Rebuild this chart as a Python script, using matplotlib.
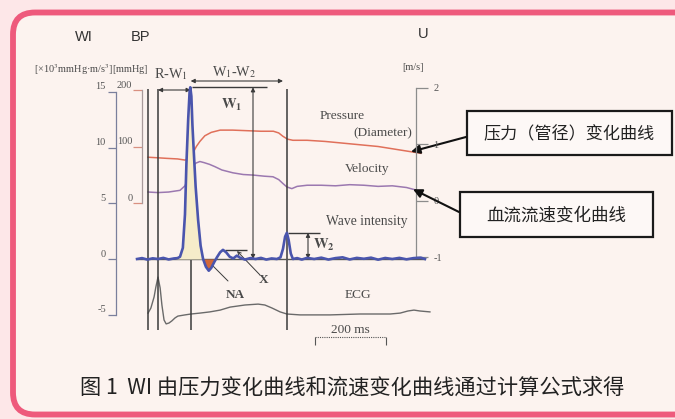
import numpy as np
import matplotlib
matplotlib.use("Agg")
import matplotlib.pyplot as plt
from matplotlib.patches import FancyBboxPatch, Rectangle
from matplotlib.transforms import ScaledTranslation

plt.rcParams['font.serif'] = ['Liberation Serif', 'DejaVu Serif']
plt.rcParams['font.sans-serif'] = ['Liberation Sans', 'DejaVu Sans']
plt.rcParams['mathtext.fontset'] = 'stix'
plt.rcParams['axes.unicode_minus'] = False

# ---------------- data ----------------
# event times (ms, relative to the ECG R wave): trace start, R, W1 peak, W2 peak
event_times = [-28, 0, 93, 363]

pressure_t = [-28, 0, 25, 55, 76, 88, 98, 108, 118, 132, 150, 175, 210, 250, 290,
              325, 340, 352, 365, 380, 420, 470, 520, 570, 620, 670, 720, 740]
pressure_mmhg = [81, 80, 79, 78, 76, 79, 88, 100, 109, 119, 125, 129, 129, 128, 127,
                 127, 124, 118, 113, 111, 111, 109, 106, 103, 100, 95, 90, 88]

velocity_t = [-28, 0, 30, 62, 76, 86, 96, 106, 118, 130, 145, 160, 180, 211, 240, 268,
              300, 324, 340, 352, 363, 377, 392, 420, 460, 500, 540, 580, 620, 660, 700, 724]
velocity_ms = [0.15, 0.14, 0.15, 0.18, 0.26, 0.42, 0.58, 0.66, 0.69, 0.67, 0.64, 0.60,
               0.54, 0.49, 0.46, 0.45, 0.43, 0.42, 0.37, 0.30, 0.24, 0.21, 0.25, 0.27,
               0.27, 0.26, 0.28, 0.27, 0.25, 0.26, 0.23, 0.19]

wi_t = [-59, -45, -30, -15, 0, 15, 30, 45, 55, 62, 70, 76, 80, 85, 89, 91, 94, 97, 101,
        106, 113, 120, 127, 135, 143, 150, 158, 166, 175, 183, 192, 202, 212, 222, 232,
        245, 260, 275, 290, 305, 320, 335, 345, 352, 358, 363, 368, 374, 380, 392, 405,
        420, 440, 460, 480, 500, 520, 540, 560, 580, 600, 620, 640, 660, 680, 700, 720,
        740, 752]
wi_vals = [0.0, 0.08, -0.05, 0.06, 0.0, 0.1, -0.04, 0.05, 0.08, 0.2, 1.0, 4.0, 8.5, 12.5,
           15.0, 15.4, 14.6, 12.0, 9.5, 6.5, 3.5, 1.2, 0.0, -0.7, -1.05, -0.8, -0.3, 0.15,
           0.6, 0.82, 0.6, 0.2, 0.05, 0.3, 0.1, -0.05, 0.08, 0.0, 0.1, -0.05, 0.05, 0.0,
           0.15, 0.9, 2.0, 2.35, 1.7, 0.5, 0.0, 0.08, -0.05, 0.1, 0.0, 0.12, -0.05, 0.08,
           0.15, -0.04, 0.1, 0.02, 0.12, -0.06, 0.09, 0.0, 0.1, -0.03, 0.08, 0.12, 0.0]

ecg_t = [-28, -20, -11, -6, 0, 6, 11, 17, 23, 31, 39, 48, 56, 76, 93, 118, 146, 175, 203,
         245, 282, 301, 321, 344, 363, 400, 485, 569, 654, 682, 704, 721, 738, 766]
ecg_mv = [0.03, 0.2, 0.57, 0.9, 1.23, 0.87, 0.3, -0.2, -0.33, -0.3, -0.23, -0.13, -0.07,
          -0.03, 0.0, 0.03, 0.07, 0.13, 0.23, 0.3, 0.33, 0.3, 0.2, 0.07, 0.0, -0.03, -0.03,
          0.0, 0.0, 0.03, 0.1, 0.13, 0.1, 0.07]

wi_ticks = [-5, 0, 5, 10, 15]
bp_ticks = [0, 100, 200]
u_ticks = [-1, 0, 1, 2]
scale_bar_ms = 200

# ---------------- colours ----------------
WI_COLOR = '#4a55ad'
PRESSURE_COLOR = '#e0705a'
VELOCITY_COLOR = '#9b78b0'
ECG_COLOR = '#6a6a6a'
DARK = '#3a3a3a'
TEXT = '#4a4a4a'
NA_FILL = '#d2683a'
W1_FILL = '#f6ecca'

# ---------------- figure & frame ----------------
W, H = 675, 419
fig = plt.figure(figsize=(W / 100, H / 100), dpi=100)
fig.patch.set_facecolor('#fde7e8')

bg = fig.add_axes([0, 0, 1, 1], zorder=0)
bg.set_xlim(0, W)
bg.set_ylim(H, 0)
bg.axis('off')
bg.add_patch(FancyBboxPatch((13, 12.5), 720, 402,
                            boxstyle='round,pad=0,rounding_size=22',
                            fc='#fcf3ef', ec='#ee5a7c', lw=4.2))

# ---------------- chart geometry (pixel layout) ----------------
MS_PX = 0.355     # pixels per millisecond
R_PX = 158        # x pixel of the R wave
WI_PX = 11.15     # pixels per WI unit
WI0_PX = 259      # y pixel of WI = 0
T_LIM = (-160, 800)
WI_LIM = (-8, 17)


def t_at(px):
    return (px - R_PX) / MS_PX


def wi_at(py):
    return (WI0_PX - py) / WI_PX


def bp_at(py):
    return (203 - py) / 0.565


def u_at(py):
    return (200.5 - py) / 56.5


def ecg_at(py):
    return (314 - py) / 30.0


x_left = R_PX + MS_PX * T_LIM[0]
x_right = R_PX + MS_PX * T_LIM[1]
y_bot = WI0_PX - WI_PX * WI_LIM[0]
y_top = WI0_PX - WI_PX * WI_LIM[1]
rect = [x_left / W, 1 - y_bot / H, (x_right - x_left) / W, (y_bot - y_top) / H]

ax = fig.add_axes(rect, zorder=3)
ax.set_xlim(*T_LIM)
ax.set_ylim(*WI_LIM)
ax.patch.set_visible(False)

axbp = ax.twinx()
axbp.set_zorder(2)
axbp.set_ylim(bp_at(y_bot), bp_at(y_top))

axu = ax.twinx()
axu.set_zorder(2)
axu.set_ylim(u_at(y_bot), u_at(y_top))

axecg = ax.twinx()
axecg.set_zorder(2)
axecg.set_ylim(ecg_at(y_bot), ecg_at(y_top))
axecg.axis('off')

for a in (axbp, axu):
    a.patch.set_visible(False)


def lift_labels(axis_obj, dy_px):
    off = ScaledTranslation(0, dy_px / 100, fig.dpi_scale_trans)
    for lab in axis_obj.get_ticklabels():
        lab.set_transform(lab.get_transform() + off)


# WI axis
for s in ('top', 'right', 'bottom'):
    ax.spines[s].set_visible(False)
ax.set_xticks([])
ax.spines['left'].set_position(('data', t_at(116)))
ax.spines['left'].set_bounds(wi_ticks[0], wi_ticks[-1])
ax.spines['left'].set_color('#7a7f9c')
ax.spines['left'].set_linewidth(0.9)
ax.set_yticks(wi_ticks)
ax.tick_params(axis='y', direction='out', length=5.8, width=0.9, color='#7a7f9c',
               pad=1.5, labelsize=7.5, labelcolor='#555', labelfontfamily='serif')
lift_labels(ax.yaxis, 6)

# BP axis
for s in ('top', 'right', 'bottom'):
    axbp.spines[s].set_visible(False)
axbp.spines['left'].set_visible(True)
axbp.yaxis.tick_left()
axbp.spines['left'].set_position(('data', t_at(142)))
axbp.spines['left'].set_bounds(bp_ticks[0], bp_ticks[-1])
axbp.spines['left'].set_color('#a89a9a')
axbp.spines['left'].set_linewidth(0.9)
axbp.set_yticks(bp_ticks)
axbp.tick_params(axis='y', direction='out', length=6.5, width=0.9, color='#d99080',
                 pad=0.5, labelsize=7.5, labelcolor='#555', labelfontfamily='serif')
lift_labels(axbp.yaxis, 6)

# U axis
for s in ('top', 'left', 'bottom'):
    axu.spines[s].set_visible(False)
axu.spines['right'].set_position(('data', t_at(416)))
axu.spines['right'].set_bounds(u_ticks[0], u_ticks[-1])
axu.spines['right'].set_color('#8c8c8c')
axu.spines['right'].set_linewidth(0.9)
axu.set_yticks(u_ticks)
axu.tick_params(axis='y', direction='out', length=8.6, width=0.9, color='#8c8c8c',
                pad=4, labelsize=7.5, labelcolor='#555', labelfontfamily='serif')

# ---------------- traces ----------------
wi_t_arr = np.array(wi_t, dtype=float)
wi_arr = np.array(wi_vals, dtype=float)

ax.vlines(event_times, wi_at(330), wi_at(89), color=DARK, lw=1.1, zorder=1)
ax.hlines(0, t_at(137), t_at(425), color='#555555', lw=1.0, zorder=1)

ax.fill_between(wi_t_arr, wi_arr, 0,
                where=(wi_t_arr >= 55) & (wi_t_arr <= 127) & (wi_arr > 0),
                interpolate=True, color=W1_FILL, lw=0, zorder=2)
ax.fill_between(wi_t_arr, wi_arr, 0,
                where=(wi_t_arr >= 120) & (wi_t_arr <= 170) & (wi_arr < 0),
                interpolate=True, color=NA_FILL, lw=0, zorder=2)
ax.plot(wi_t_arr, wi_arr, color=WI_COLOR, lw=1.9, zorder=4)

axbp.plot(pressure_t, pressure_mmhg, color=PRESSURE_COLOR, lw=1.1)
axu.plot(velocity_t, velocity_ms, color=VELOCITY_COLOR, lw=1.1)
axecg.plot(ecg_t, ecg_mv, color=ECG_COLOR, lw=1.0)

# ---------------- measurement markers ----------------
w1_peak = wi_arr.max()
w2_mask = (wi_t_arr > 330) & (wi_t_arr < 400)
w2_peak = wi_arr[w2_mask].max()
x_mask = (wi_t_arr > 165) & (wi_t_arr < 200)
x_level = wi_arr[x_mask].max()

ax.hlines(w1_peak, t_at(192), t_at(267), color=DARK, lw=1.0)
ax.hlines(w2_peak, t_at(288), t_at(320), color=DARK, lw=1.0)
ax.hlines(x_level, t_at(225), t_at(247), color=DARK, lw=1.0)

dbl = dict(arrowstyle='<|-|>', color=DARK, lw=0.8, mutation_scale=6, shrinkA=0, shrinkB=0)
ax.annotate('', xy=(event_times[1], wi_at(90)), xytext=(event_times[2] - 1, wi_at(90)),
            arrowprops=dbl)
ax.annotate('', xy=(event_times[2] - 1, wi_at(81)), xytext=(t_at(283), wi_at(81)),
            arrowprops=dbl)
ax.annotate('', xy=(t_at(253), 0), xytext=(t_at(253), w1_peak), arrowprops=dbl)
ax.annotate('', xy=(t_at(308), 0), xytext=(t_at(308), w2_peak), arrowprops=dbl)

ax.annotate('', xy=(t_at(237), wi_at(251)), xytext=(t_at(260), wi_at(275)),
            arrowprops=dict(arrowstyle='->', color=DARK, lw=0.7, mutation_scale=6,
                            shrinkA=0, shrinkB=0))
ax.annotate('', xy=(t_at(213), wi_at(266)), xytext=(t_at(228), wi_at(281)),
            arrowprops=dict(arrowstyle='-', color=DARK, lw=0.7, shrinkA=0, shrinkB=0))

# 200 ms scale bar
sb0 = t_at(315)
ax.plot([sb0, sb0 + scale_bar_ms], [wi_at(337)] * 2, ls=(0, (1, 1)), color='#555', lw=0.8)
ax.vlines([sb0, sb0 + scale_bar_ms], wi_at(345), wi_at(337), color='#555', lw=0.8)

# ---------------- text labels ----------------
serif = dict(family='serif', color=TEXT, ha='center', va='center')
bg.text(84, 37, 'WI', family='sans-serif', fontsize=10.5, color='#333', ha='center', va='center')
bg.text(140, 37, 'BP', family='sans-serif', fontsize=10.5, color='#333', ha='center', va='center')
bg.text(423, 34, 'U', family='sans-serif', fontsize=10.5, color='#333', ha='center', va='center')
bg.text(91, 70, r'[×10$^3$mmHg·m/s$^3$][mmHg]', fontsize=7.4, **serif)
bg.text(413, 67, '[m/s]', fontsize=7.4, **serif)

bg.text(171, 74, r'R-W$_1$', fontsize=10.3, **serif)
bg.text(234, 72, r'W$_1$-W$_2$', fontsize=10.3, **serif)
bg.text(232, 105, r'$\mathbf{W_1}$', fontsize=10.5, **serif)
bg.text(342, 116, 'Pressure', fontsize=9.6, **serif)
bg.text(383, 133, '(Diameter)', fontsize=9.6, **serif)
bg.text(367, 169, 'Velocity', fontsize=9.6, **serif)
bg.text(367, 221, 'Wave intensity', fontsize=9.8, **serif)
bg.text(324, 245, r'$\mathbf{W_2}$', fontsize=10.5, **serif)
bg.text(264, 280, 'X', fontsize=9.5, weight='bold', **serif)
bg.text(235, 295, 'NA', fontsize=9.5, weight='bold', **serif)
bg.text(358, 295, 'ECG', fontsize=9.6, **serif)
bg.text(350, 330, '200 ms', fontsize=9.6, **serif)

# ---------------- call-out boxes ----------------
cjk = ['Noto Sans CJK SC', 'DejaVu Sans']
bg.add_patch(Rectangle((467, 111), 205, 44, fc='#fdf8f6', ec='#1a1a1a', lw=1.6))
bg.text(569, 134, '压力（管径）变化曲线', family=cjk, fontsize=12.3, color='#222',
        ha='center', va='center')
bg.add_patch(Rectangle((460, 192), 193, 45, fc='#fdf8f6', ec='#1a1a1a', lw=1.6))
bg.text(556, 216, '血流流速变化曲线', family=cjk, fontsize=12.6, color='#222',
        ha='center', va='center')

call = dict(arrowstyle='-|>', color='#111', lw=1.5, mutation_scale=13, shrinkA=0, shrinkB=0)
tp = t_at(411)
axbp.annotate('', xy=(tp, np.interp(tp, pressure_t, pressure_mmhg)), xytext=(466, 137),
              textcoords=bg.transData, arrowprops=call, annotation_clip=False)
tv = t_at(413)
axu.annotate('', xy=(tv, np.interp(tv, velocity_t, velocity_ms)), xytext=(459, 212),
             textcoords=bg.transData, arrowprops=call, annotation_clip=False)

# ---------------- caption ----------------
bg.text(352, 388, '图 1  WI 由压力变化曲线和流速变化曲线通过计算公式求得', family=cjk,
        fontsize=15.3, color='#222', ha='center', va='center')

fig.savefig('out.png', dpi=100, facecolor=fig.get_facecolor())
